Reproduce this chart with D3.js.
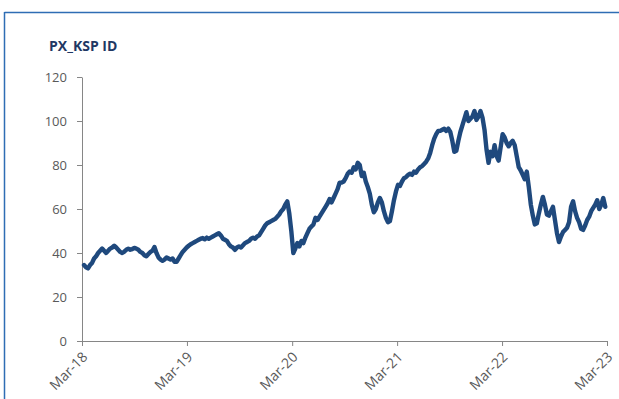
<!DOCTYPE html>
<html><head><meta charset="utf-8">
<script src="https://cdn.jsdelivr.net/npm/d3@7"></script>
<style>
html,body{margin:0;padding:0;background:#fff;}
svg{display:block;}
</style></head>
<body>
<svg id="chart" width="619" height="399"></svg>
<script>
const title = "PX_KSP ID";
const startDate = "2018-03-08";           // first weekly observation
const yTicks = [0, 20, 40, 60, 80, 100, 120];
const xTickDates = ["2018-03-01","2019-03-01","2020-03-01","2021-03-01","2022-03-01","2023-03-01"];
const xTickLabels = ["Mar-18","Mar-19","Mar-20","Mar-21","Mar-22","Mar-23"];
// weekly closing values
const values2018 = [34.5,33.5,33,34.5,35.5,37.5,38.5,40,41,42,41,40,41,42,42.5,43.3,42.5,41.5,40.5,40,
  40.6,41.5,42,41.5,41.8,42.3,42,41.5,40.5,40,39,38.5,39.5,40.5,41,42.7,40,38,37,36.5,
  37,38,37.5,37,37.5,36,36,37.5,39,40.5,41.5];
const values2019 = [42.5,43.3,44,44.5,45,45.5,46,46.5,46.8,46.2,47,46.5,47,47.5,48,48.5,49,48,46.5,
  46,45.5,44,43,42.5,41.4,42.5,43,42.5,43.5,44.5,45,45.5,46.5,47,46.5,47.5,48,49.5,51,
  52.5,53.5,54,54.5,55,55.5,56.5,57.5,59,60,62,63.5];
const values2020 = [58,50,40,42,44.5,43,45.5,44.5,47,49,51,52,53,56,55,56.5,58,59.5,61,62.5,
  64.5,63,65,67,69,72,72,72.5,74,76,77,76.5,79,78,81,80,75,76.5,72.5,70,
  67,62,58.5,60,63,65,63,59,56,54,54.5,59];
const values2021 = [64,68,71,70.5,72.5,74,74.5,75.5,76,75.5,77,76.5,78,79,79.5,80.5,81.5,83,85.5,89,
  92,94,95.5,95.5,96,96.5,95.5,96.5,95,91,86,86.5,91,95,98,101,104,100,101,102,
  104.5,100.5,102,104.5,101.5,96,87,81,86,84,89,84];
const values2022 = [82,88,94,92.5,90,88.5,90,91,89,84,79,77.5,75.5,73.5,77,70,62,57,53,53.5,
  58,62,65.5,62,57.5,57,59,61,55,49,45,47.5,49.5,50.5,51.5,54,61,63.5,59,56,
  54,51,50.5,52.5,55,56.5,59,60.5,62,64,60,62];
const values2023 = [65, 61];
const values = [].concat(values2018, values2019, values2020, values2021, values2022, values2023);

const parse = d3.timeParse("%Y-%m-%d");
const t0 = parse(startDate);
const series = values.map((v, i) => ({date: d3.timeWeek.offset(t0, i), value: v}));

const svg = d3.select("#chart");
const gray = "#868686";
const font = "'Open Sans', 'Liberation Sans', sans-serif";

// frame
svg.append("line").attr("x1", 4.5).attr("x2", 619).attr("y1", 12.5).attr("y2", 12.5)
  .attr("stroke", "#2E6DB4").attr("stroke-width", 1.5);
svg.append("line").attr("x1", 4.5).attr("x2", 4.5).attr("y1", 12).attr("y2", 399)
  .attr("stroke", "#2E6DB4").attr("stroke-width", 1.5);

const x = d3.scaleTime().domain([parse(xTickDates[0]), parse(xTickDates[xTickDates.length-1])]).range([82, 607]);
const y = d3.scaleLinear().domain([0, 120]).range([341, 77]);

// y axis
const yAxis = svg.append("g").attr("transform", "translate(82,0)")
  .call(d3.axisLeft(y).tickValues(yTicks).tickSize(5).tickPadding(10).tickSizeOuter(0));
yAxis.select(".domain").attr("stroke", gray);
yAxis.selectAll(".tick line").attr("stroke", gray);
yAxis.selectAll("text").attr("fill", "#595959").style("font-family", font).style("font-size", "13px");

// x axis
const xAxis = svg.append("g").attr("transform", "translate(0,341)")
  .call(d3.axisBottom(x).tickValues(xTickDates.map(parse)).tickFormat((d, i) => xTickLabels[i]).tickSize(5).tickSizeOuter(0));
xAxis.select(".domain").attr("stroke", gray);
xAxis.selectAll(".tick line").attr("stroke", gray);
xAxis.selectAll("text")
  .attr("fill", "#595959")
  .style("font-family", font).style("font-size", "14px")
  .attr("text-anchor", "end")
  .attr("transform", "translate(-1,10) rotate(-45)")
  .attr("x", 0).attr("y", 0).attr("dx", "0").attr("dy", "0.7em");

// line
const line = d3.line().x(d => x(d.date)).y(d => y(d.value));
svg.append("path").datum(series)
  .attr("fill", "none").attr("stroke", "#1F497D").attr("stroke-width", 4.4)
  .attr("stroke-linejoin", "round").attr("stroke-linecap", "round")
  .attr("d", line);

// title
svg.append("text").attr("x", 49).attr("y", 51).text(title)
  .attr("fill", "#1F3864").style("font-family", font)
  .style("font-size", "14px").style("font-weight", "bold");
</script>
</body></html>
